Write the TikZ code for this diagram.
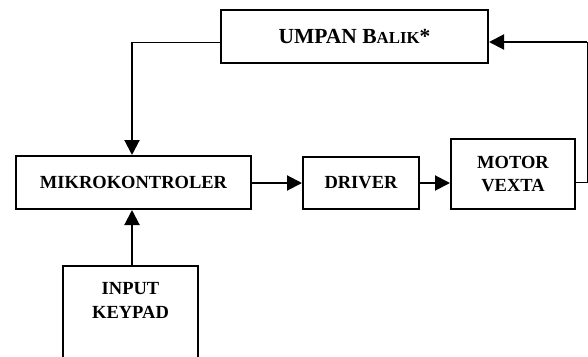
\documentclass[tikz,border=0pt]{standalone}
\usepackage{fontspec}
\setmainfont{Liberation Serif}
\usetikzlibrary{arrows.meta,calc}
\begin{document}
\begin{tikzpicture}[x=1pt,y=-1pt,
  blok/.style={draw,line width=2pt,rectangle,inner sep=0pt,align=center,
    font=\fontsize{18.5}{23}\selectfont\bfseries},
  tebal/.style={line width=2pt,-{Triangle[length=15pt,width=15pt]}},
  tipis/.style={line width=1pt}]
\useasboundingbox (0,0) rectangle (588,356);
\clip (0,0) rectangle (588,356);

% blocks
\node[blok,minimum width=267pt,minimum height=53pt,
  font=\fontsize{21.5}{24}\selectfont\bfseries] (umpan) at (354.5,36.5)
  {UMPAN B{\fontsize{16.8}{18}\selectfont ALIK}*};
\node[blok,minimum width=235pt,minimum height=53pt] (mikro) at (133.5,182.5) {MIKROKONTROLER};
\node[blok,minimum width=116pt,minimum height=52pt] (driver) at (361,183) {DRIVER};
\node[blok,minimum width=124pt,minimum height=70pt] (motor) at (513,174) {MOTOR\\VEXTA};
\node[blok,minimum width=135pt,minimum height=120pt] (keypad) at (130.5,326) {};
\node[font=\fontsize{18.5}{24}\selectfont\bfseries,align=center] (keytxt) at (130.5,300) {INPUT\\KEYPAD};

% routing points
\coordinate (fbkanan) at (587,42);
\coordinate (fbkiri) at (132,42);

% forward path
\draw[tebal] (mikro.east |- driver) -- (driver.west);
\draw[tebal] (driver.east) -- (motor.west |- driver);
\draw[tebal] (keypad.north -| fbkiri) -- (mikro.south -| fbkiri);

% feedback loop
\draw[tipis] ($(motor.east)+(0,8)$) -| (fbkanan);
\draw[tebal] (fbkanan) -- (umpan.east |- fbkanan);
\draw[tipis] (umpan.west |- fbkiri) -- (fbkiri);
\draw[tebal] (fbkiri) -- (mikro.north -| fbkiri);
\end{tikzpicture}
\end{document}
